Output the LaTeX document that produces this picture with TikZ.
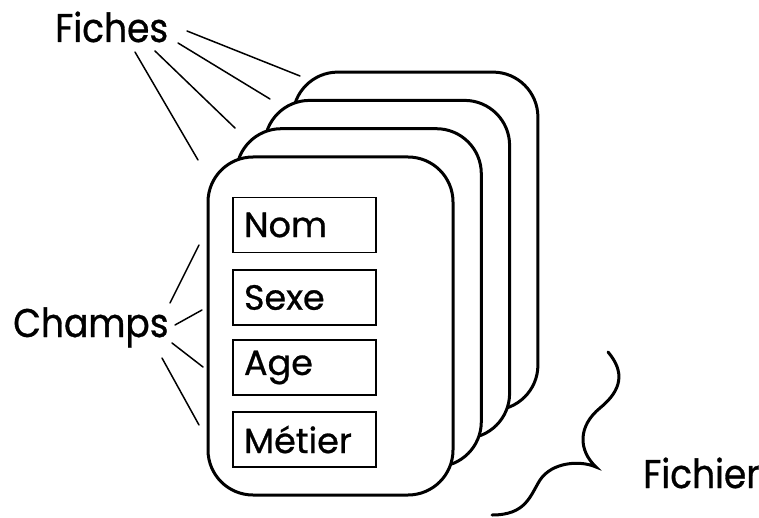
\documentclass[tikz,border=0pt]{standalone}
\usepackage{fontspec}
\setmainfont{Poppins}[FakeBold=0.8]
\newfontfamily\labfont{Poppins}[FakeStretch=0.9,FakeBold=0.8]
\begin{document}
\begin{tikzpicture}[x=1pt,y=-1pt,
  card/.style={draw=black,fill=white,line width=3pt,rounded corners=45pt,minimum width=245pt,minimum height=338pt,inner sep=0pt},
  field/.style={draw=black,line width=1.5pt,minimum width=143pt,minimum height=55pt,inner xsep=11pt,text width=121pt,align=left,font=\fontsize{35}{38}\selectfont},
  lab/.style={anchor=base west,inner sep=0pt,font=\labfont\fontsize{40}{44}\selectfont},
  conn/.style={line width=1.5pt,line cap=round}]
\useasboundingbox (0,0) rectangle (759,518);
\node[card] (c4) at (415.4,241.1) {};
\node[card] (c3) at (387.1,269.4) {};
\node[card] (c2) at (358.8,297.7) {};
\node[card] (c1) at (330.5,326) {};
\node[field] (nom) at (304.5,225) {Nom};
\node[field] (sexe) at (304.5,297.5) {Sexe};
\node[field] (age) at (304.5,367.5) {Age};
\node[field] (metier) at (304.5,439.5) {Métier};
\node[lab] (fiches) at (55,42) {Fiches};
\node[lab] (champs) at (13,337) {Champs};
\node[lab] (fichier) at (643,488) {Fichier};
% Fiches connectors
\coordinate (fa1) at (135,52);  \coordinate (fb1) at (198,160);
\coordinate (fa2) at (155,51);  \coordinate (fb2) at (235,128);
\coordinate (fa3) at (178,43);  \coordinate (fb3) at (270,99);
\coordinate (fa4) at (187,31);  \coordinate (fb4) at (300,76);
\foreach \i in {1,...,4} \draw[conn] (fa\i) -- (fb\i);
% Champs connectors
\coordinate (ca1) at (170,303); \coordinate (cb1) at (199,245);
\coordinate (ca2) at (175,325); \coordinate (cb2) at (202,310);
\coordinate (ca3) at (172,343); \coordinate (cb3) at (203,367);
\coordinate (ca4) at (162,358); \coordinate (cb4) at (199,425);
\foreach \i in {1,...,4} \draw[conn] (ca\i) -- (cb\i);
% brace
\coordinate (bs) at (608,352);
\coordinate (bt) at (596,467);
\coordinate (be) at (492,515);
\draw[line width=3pt,line cap=round] (bs) .. controls (625,372) and (622,390) .. (600,408)
  .. controls (578,426) and (578,450) .. (bt)
  .. controls (580,460) and (552,462) .. (540,480)
  .. controls (530,496) and (526,515) .. (be);
\end{tikzpicture}
\end{document}
